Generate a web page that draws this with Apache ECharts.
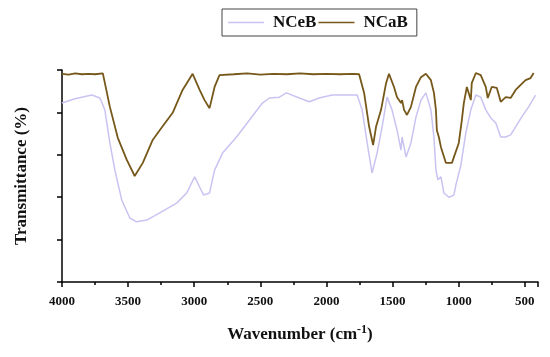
<!DOCTYPE html>
<html>
<head>
<meta charset="utf-8">
<script src="https://cdn.jsdelivr.net/npm/echarts@6/dist/echarts.min.js"></script>
<style>html,body{margin:0;padding:0;background:#fff}#c{width:550px;height:357px}</style>
</head>
<body>
<div id="c"></div>
<script>
// Wavenumber (cm-1), transmittance (arbitrary units, 0..5)
const seriesNames = ['NCeB', 'NCaB'];
const wnStart = 4000;   // left end of the (reversed) wavenumber axis
const wnEnd = 400;      // right end
const tickLabels = ['4000', '3500', '3000', '2500', '2000', '1500', '1000', '500'];

const nceb = [
  [4000,4.22],[3902,4.32],[3774,4.41],[3713,4.34],[3676,4.06],[3638,3.28],[3600,2.64],
  [3548,1.93],[3487,1.51],[3435,1.42],[3359,1.46],[3261,1.63],[3133,1.86],[3057,2.10],
  [2997,2.48],[2959,2.24],[2929,2.05],[2884,2.10],[2846,2.64],[2786,3.04],[2680,3.42],
  [2582,3.82],[2484,4.22],[2432,4.34],[2356,4.36],[2303,4.46],[2205,4.34],[2130,4.25],
  [2055,4.34],[1957,4.41],[1806,4.41],[1768,4.41],[1730,4.06],[1692,3.28],[1655,2.57],
  [1617,3.04],[1579,3.66],[1541,4.36],[1504,4.06],[1466,3.58],[1436,3.11],[1428,3.42],
  [1398,2.95],[1361,3.28],[1323,3.89],[1285,4.29],[1248,4.46],[1210,4.06],[1187,3.42],
  [1172,2.64],[1157,2.41],[1134,2.48],[1112,2.10],[1074,2.00],[1036,2.05],[1021,2.29],
  [983,2.76],[946,3.51],[908,4.06],[870,4.41],[833,4.36],[795,4.06],[757,3.87],
  [719,3.75],[682,3.42],[644,3.42],[607,3.47],[569,3.66],[524,3.89],[471,4.13],[418,4.41]
];

const ncab = [
  [4000,4.91],[3950,4.89],[3900,4.92],[3850,4.90],[3800,4.91],[3750,4.90],[3691,4.92],
  [3638,4.13],[3578,3.40],[3510,2.88],[3450,2.50],[3389,2.81],[3314,3.35],[3261,3.58],
  [3163,3.99],[3088,4.53],[3012,4.91],[2959,4.53],[2922,4.29],[2884,4.10],[2846,4.60],
  [2809,4.88],[2700,4.90],[2600,4.92],[2500,4.89],[2400,4.91],[2300,4.90],[2200,4.92],
  [2100,4.90],[2000,4.91],[1900,4.90],[1800,4.91],[1753,4.90],[1715,4.46],[1677,3.66],
  [1647,3.23],[1625,3.66],[1587,4.06],[1549,4.69],[1527,4.91],[1489,4.60],[1466,4.36],
  [1436,4.22],[1428,4.29],[1413,4.06],[1391,3.94],[1361,4.13],[1323,4.60],[1285,4.83],
  [1248,4.91],[1210,4.76],[1187,4.46],[1172,4.06],[1165,3.58],[1150,3.42],[1134,3.18],
  [1097,2.81],[1051,2.81],[999,3.28],[976,3.82],[961,4.22],[938,4.60],[908,4.29],
  [901,4.69],[870,4.93],[833,4.88],[795,4.60],[780,4.34],[750,4.60],[712,4.58],
  [682,4.25],[644,4.36],[607,4.34],[569,4.53],[531,4.65],[494,4.76],[456,4.81],[433,4.93]
];

// axis runs in "distance from 4000" so that ticks count from the left end
const toAxis = d => d.map(([w, t]) => [wnStart - w, t]);

const serif = '"Liberation Serif","DejaVu Serif",serif';
const chart = echarts.init(document.getElementById('c'));
chart.setOption({
  animation: false,
  backgroundColor: '#fff',
  grid: { left: 62, right: 12, top: 70, bottom: 75, containLabel: false },
  legend: {
    data: seriesNames,
    left: 222, top: 9,
    orient: 'horizontal',
    icon: 'rect',
    itemWidth: 36, itemHeight: 1.5, itemGap: 2,
    borderColor: '#444', borderWidth: 1,
    padding: [5, 9, 5, 6],
    textStyle: { fontFamily: serif, fontWeight: 'bold', fontSize: 17, color: '#111', padding: [0, 0, 0, 4] }
  },
  xAxis: {
    type: 'value', min: 0, max: wnStart - wnEnd, interval: 500,
    axisLine: { show: true, lineStyle: { color: '#000', width: 1.5 } },
    axisTick: { show: true, inside: false, length: 5, lineStyle: { color: '#000', width: 1.5 } },
    minorTick: { show: true, splitNumber: 2, length: 3, lineStyle: { color: '#000', width: 1.5 } },
    axisLabel: { show: true, margin: 13, showMaxLabel: false,
      formatter: v => { const s = String(wnStart - v); return tickLabels.indexOf(s) >= 0 ? s : ''; },
      fontFamily: serif, fontWeight: 'bold', fontSize: 13, color: '#111' },
    splitLine: { show: false },
    name: '{a|Wavenumber (cm}{s|-1}{a|)}',
    nameLocation: 'middle', nameGap: 42,
    nameTextStyle: {
      rich: {
        a: { fontFamily: serif, fontWeight: 'bold', fontSize: 17, color: '#111' },
        s: { fontFamily: serif, fontWeight: 'bold', fontSize: 12, color: '#111', padding: [0, 0, 9, 0] }
      }
    }
  },
  yAxis: {
    type: 'value', min: 0, max: 5, interval: 1,
    axisLine: { show: true, lineStyle: { color: '#000', width: 1.5 } },
    axisTick: { show: true, inside: false, length: 5, lineStyle: { color: '#000', width: 1.5 } },
    axisLabel: { show: false },
    splitLine: { show: false },
    name: 'Transmittance (%)',
    nameLocation: 'middle', nameGap: 32,
    nameTextStyle: { fontFamily: serif, fontWeight: 'bold', fontSize: 17, color: '#111' }
  },
  series: [{
    name: 'NCeB', type: 'line', data: toAxis(nceb), symbol: 'none', smooth: false,
    lineStyle: { color: '#c9c3f2', width: 1.5 }, itemStyle: { color: '#c9c3f2' }, z: 2
  }, {
    name: 'NCaB', type: 'line', data: toAxis(ncab), symbol: 'none', smooth: false,
    lineStyle: { color: '#76581a', width: 1.8 }, itemStyle: { color: '#76581a' }, z: 3
  }]
});
</script>
</body>
</html>
